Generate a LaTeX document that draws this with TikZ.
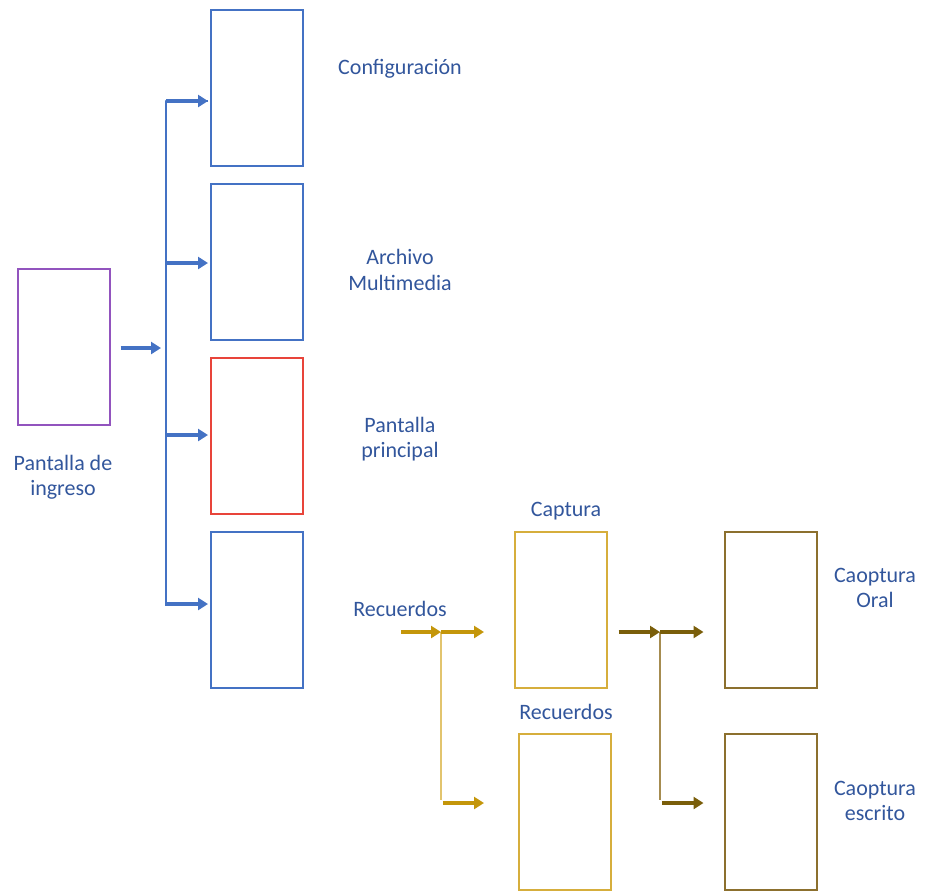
\documentclass[tikz,border=0pt]{standalone}
\usepackage{fontspec}
\setmainfont{Carlito}
\usetikzlibrary{arrows.meta}
\definecolor{txtblue}{RGB}{50,86,156}
\definecolor{lineblue}{RGB}{68,114,196}
\definecolor{linered}{RGB}{232,68,58}
\definecolor{linepurple}{RGB}{146,84,190}
\definecolor{goldbox}{RGB}{214,174,60}
\definecolor{goldarr}{RGB}{196,150,10}
\definecolor{goldbus}{RGB}{226,196,110}
\definecolor{darkbox}{RGB}{140,112,46}
\definecolor{darkarr}{RGB}{122,94,10}
\definecolor{darkbus}{RGB}{166,140,80}
\tikzset{
  screen/.style={draw=#1, line width=1.5pt, minimum width=69pt, minimum height=117pt, inner sep=0pt},
  lbl/.style={text=txtblue, font=\fontsize{16.5}{19}\selectfont, align=center, inner sep=0pt},
  flow/.style={draw=#1, line width=2.4pt, -{Triangle[length=7.5pt,width=9pt]}},
  bus/.style={draw=#1, line width=1.8pt},
}
\begin{document}
\begin{tikzpicture}[x=0.75pt,y=-0.75pt]
\useasboundingbox (0,0) rectangle (935,894);

% screens
\node[screen=linepurple] (ingreso) at (63.5,346.5) {};
\node[screen=lineblue] (config) at (257,87.5) {};
\node[screen=lineblue] (multi) at (257,262) {};
\node[screen=linered] (principal) at (257,436) {};
\node[screen=lineblue] (recuerdos) at (257,610) {};
\node[screen=goldbox] (captura) at (561,610) {};
\node[screen=goldbox] (recbox) at (565,812) {};
\node[screen=darkbox] (oral) at (770.5,610) {};
\node[screen=darkbox] (escrito) at (770.5,812) {};

% labels
\node[lbl] (l-ingreso) at (63,477) {Pantalla de\\ingreso};
\node[lbl] (l-config) at (400,69) {Configuración};
\node[lbl] (l-multi) at (400,270) {Archivo\\Multimedia};
\node[lbl] (l-principal) at (400,439) {Pantalla\\principal};
\node[lbl] (l-recuerdos) at (400,609) {Recuerdos};
\node[lbl] (l-captura) at (566,511) {Captura};
\node[lbl] (l-recbox) at (566,712) {Recuerdos};
\node[lbl] (l-oral) at (875,588) {Caoptura\\Oral};
\node[lbl] (l-escrito) at (875,801) {Caoptura\\escrito};

% main menu fan-out
\coordinate (bt) at (166,101);
\coordinate (bb) at (166,606);
\coordinate (bin) at (161,348);
\draw[flow=lineblue] ([xshift=7.5pt]ingreso.east |- bin) -- (bin);
\draw[bus=lineblue, line join=round] ([xshift=-1.5pt]config.west |- bt) -- (bt) -- (bb);
\draw[flow=lineblue] (bt) -- ([xshift=-1.5pt]config.west |- bt);
\draw[flow=lineblue] (166,263) -- ([xshift=-1.5pt]multi.west |- 0,263);
\draw[flow=lineblue] (166,435) -- ([xshift=-1.5pt]principal.west |- 0,435);
\draw[flow=lineblue] (166,604) -- ([xshift=-1.5pt]recuerdos.west |- 0,604);

% recuerdos branch
\coordinate (g0) at (401,632);
\coordinate (g1) at (441,632);
\coordinate (g2) at (441,800);
\coordinate (g3) at (443,803);
\draw[bus=goldbus] (g1) -- (g2);
\draw[flow=goldarr] (g0) -- (g1);
\draw[flow=goldarr] (g1) -- ([xshift=-22.5pt]captura.west |- g1);
\draw[flow=goldarr] (g3) -- ([xshift=-25.5pt]recbox.west |- g3);

% capture branch
\coordinate (d0) at ([xshift=8pt]captura.east |- g0);
\coordinate (d1) at (660,632);
\coordinate (d2) at (660,800);
\coordinate (d3) at (662,803);
\draw[bus=darkbus] (d1) -- (d2);
\draw[flow=darkarr] (d0) -- (d1);
\draw[flow=darkarr] (d1) -- ([xshift=-15pt]oral.west |- d1);
\draw[flow=darkarr] (d3) -- ([xshift=-15pt]escrito.west |- d3);
\end{tikzpicture}
\end{document}
